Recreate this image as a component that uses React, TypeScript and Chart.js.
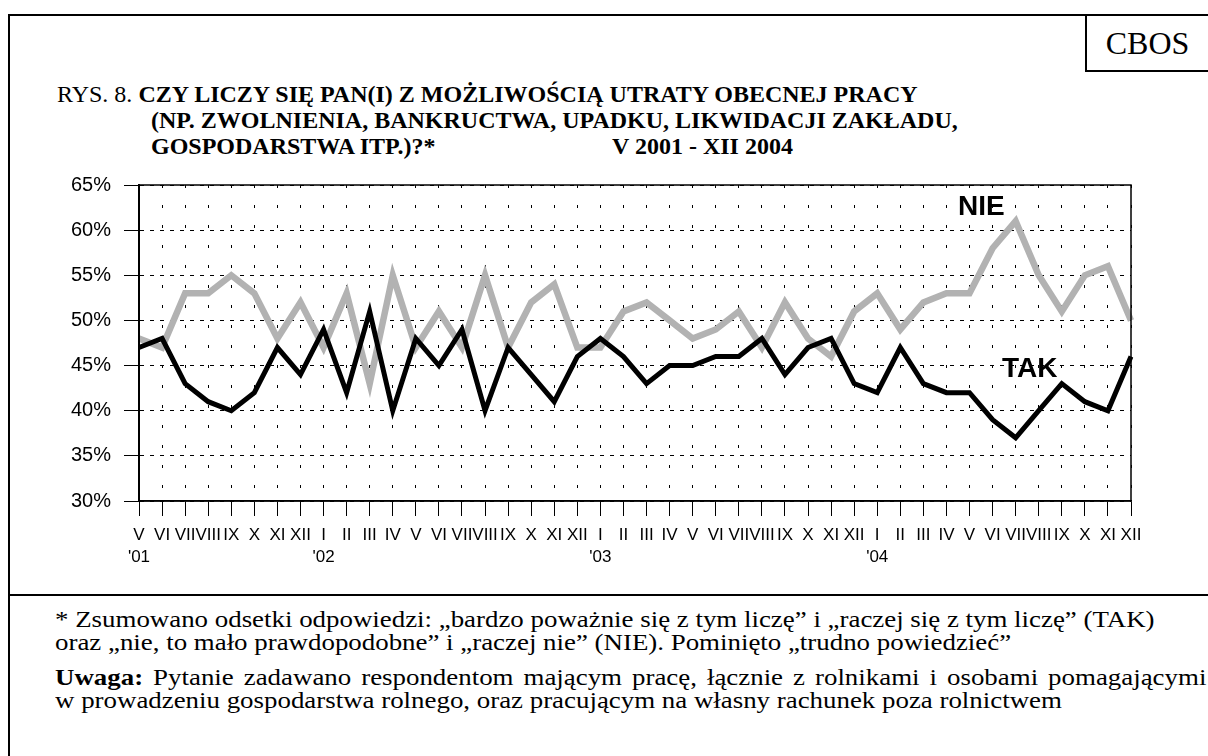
import React, { useEffect, useRef } from "react";
import { Chart, registerables } from "chart.js";

Chart.register(...registerables);

const months = [
  "V", "VI", "VII", "VIII", "IX", "X", "XI", "XII",
  "I", "II", "III", "IV", "V", "VI", "VII", "VIII", "IX", "X", "XI", "XII",
  "I", "II", "III", "IV", "V", "VI", "VII", "VIII", "IX", "X", "XI", "XII",
  "I", "II", "III", "IV", "V", "VI", "VII", "VIII", "IX", "X", "XI", "XII",
];
const years = [
  "'01", "", "", "", "", "", "", "",
  "'02", "", "", "", "", "", "", "", "", "", "", "",
  "'03", "", "", "", "", "", "", "", "", "", "", "",
  "'04", "", "", "", "", "", "", "", "", "", "", "",
];
const tak = [
  47, 48, 43, 41, 40, 42, 47, 44,
  49, 42, 51, 40, 48, 45, 49, 40, 47, 44, 41, 46,
  48, 46, 43, 45, 45, 46, 46, 48, 44, 47, 48, 43,
  42, 47, 43, 42, 42, 39, 37, 40, 43, 41, 40, 46,
];
const nie = [
  48, 47, 53, 53, 55, 53, 48, 52,
  47, 53, 43, 55, 47, 51, 47, 55, 47, 52, 54, 47,
  47, 51, 52, 50, 48, 49, 51, 47, 52, 48, 46, 51,
  53, 49, 52, 53, 53, 58, 61, 55, 51, 55, 56, 50,
];
const yTicks = [30, 35, 40, 45, 50, 55, 60, 65];

const CANVAS_LEFT = 30;
const CANVAS_TOP = 160;
const CANVAS_W = 1150;
const CANVAS_H = 430;
const AREA_LEFT = 139;
const AREA_TOP = 177;
const AREA_RIGHT = 1131;
const AREA_BOTTOM = 501;

const SANS = "'Liberation Sans', Arial, sans-serif";
const SERIF = "'Liberation Serif', 'Times New Roman', serif";

const frameBox = {
  id: "frameBox",
  afterDatasetsDraw(chart: any) {
    const { ctx, chartArea } = chart;
    ctx.save();
    ctx.strokeStyle = "#000";
    ctx.setLineDash([]);
    ctx.lineWidth = 1.5;
    ctx.strokeRect(chartArea.left, chartArea.top, chartArea.right - chartArea.left, chartArea.bottom - chartArea.top);
    ctx.lineWidth = 2;
    ctx.beginPath();
    ctx.moveTo(chartArea.left, chartArea.top);
    ctx.lineTo(chartArea.left, chartArea.bottom);
    ctx.stroke();
    ctx.restore();
  },
};

function LineChart() {
  const ref = useRef<HTMLCanvasElement>(null);
  useEffect(() => {
    if (!ref.current) return;
    const labels = months.map((m, i) => [m, years[i]]);
    const chart = new Chart(ref.current, {
      type: "line",
      data: {
        labels,
        datasets: [
          {
            label: "TAK",
            data: tak,
            borderColor: "#000000",
            borderWidth: 5,
            pointRadius: 0,
            tension: 0,
            borderJoinStyle: "miter",
          },
          {
            label: "NIE",
            data: nie,
            borderColor: "#b2b2b2",
            borderWidth: 6.5,
            pointRadius: 0,
            tension: 0,
            borderJoinStyle: "miter",
          },
        ],
      },
      options: {
        animation: false,
        responsive: false,
        maintainAspectRatio: false,
        events: [],
        layout: {
          padding: {
            top: AREA_TOP - CANVAS_TOP,
            right: CANVAS_LEFT + CANVAS_W - AREA_RIGHT,
            left: 0,
            bottom: 0,
          },
        },
        plugins: { legend: { display: false }, tooltip: { enabled: false }, title: { display: false } },
        scales: {
          x: {
            type: "category",
            offset: false,
            afterFit(scale: any) {
              scale.height = CANVAS_TOP + CANVAS_H - AREA_BOTTOM;
            },
            grid: {
              display: true,
              color: "#000",
              lineWidth: 1,
              drawTicks: true,
              tickLength: 15,
              tickBorderDash: [],
              tickColor: "#000",
              tickWidth: 1,
              offset: false,
            },
            border: { display: true, color: "#000", width: 1.5, dash: [3, 17] },
            ticks: {
              autoSkip: false,
              maxRotation: 0,
              minRotation: 0,
              color: "#000",
              padding: 8,
              font: { family: SANS, size: 17, lineHeight: 1.3 },
            },
          },
          y: {
            min: 30,
            max: 65,
            afterFit(scale: any) {
              scale.width = AREA_LEFT - CANVAS_LEFT;
            },
            afterBuildTicks(scale: any) {
              scale.ticks = yTicks.map((v) => ({ value: v }));
            },
            grid: {
              color: "#000",
              lineWidth: 1,
              drawTicks: true,
              tickLength: 15,
              tickBorderDash: [],
              tickColor: "#000",
              tickWidth: 1,
            },
            border: { display: true, color: "#000", width: 2, dash: [4, 6] },
            ticks: {
              color: "#000",
              padding: 13,
              font: { family: SANS, size: 20 },
              callback: (v: any) => v + "%",
            },
          },
        },
      },
      plugins: [frameBox],
    });
    return () => chart.destroy();
  }, []);
  return (
    <canvas
      ref={ref}
      width={CANVAS_W}
      height={CANVAS_H}
      style={{ position: "absolute", left: CANVAS_LEFT, top: CANVAS_TOP, width: CANVAS_W, height: CANVAS_H }}
    />
  );
}

export default function App() {
  const titleLine: React.CSSProperties = {
    position: "absolute",
    fontFamily: SERIF,
    fontSize: 24,
    fontWeight: "bold",
    whiteSpace: "nowrap",
    lineHeight: "26px",
    color: "#000",
  };
  const foot: React.CSSProperties = {
    position: "absolute",
    left: 55,
    fontFamily: SERIF,
    fontSize: 24,
    whiteSpace: "nowrap",
    lineHeight: "23px",
    color: "#000",
    transform: "scaleX(1.12)",
    transformOrigin: "0 0",
  };
  const seriesLabel: React.CSSProperties = {
    position: "absolute",
    fontFamily: SANS,
    fontWeight: "bold",
    fontSize: 28,
    lineHeight: "32px",
    color: "#000",
    whiteSpace: "nowrap",
  };
  return (
    <div style={{ position: "absolute", left: 0, top: 0, width: 1208, height: 756, overflow: "hidden", background: "#fff" }}>
      {/* outer frame */}
      <div style={{ position: "absolute", left: 8, top: 14, width: 1220, height: 800, borderLeft: "2px solid #000", borderTop: "2px solid #000" }} />
      {/* divider */}
      <div style={{ position: "absolute", left: 8, top: 594, width: 1220, height: 2, background: "#000" }} />
      {/* CBOS box */}
      <div style={{ position: "absolute", left: 1085, top: 14, width: 140, height: 56, borderLeft: "2px solid #000", borderBottom: "2px solid #000" }} />
      <div style={{ position: "absolute", left: 1087, top: 26, width: 121, textAlign: "center", fontFamily: SERIF, fontSize: 32, lineHeight: "34px", color: "#000" }}>CBOS</div>
      {/* title */}
      <div style={{ ...titleLine, left: 57, top: 81 }}>
        <span style={{ fontWeight: "normal" }}>RYS. 8. </span>CZY LICZY SIĘ PAN(I) Z MOŻLIWOŚCIĄ UTRATY OBECNEJ PRACY
      </div>
      <div style={{ ...titleLine, left: 151, top: 107 }}>(NP. ZWOLNIENIA, BANKRUCTWA, UPADKU, LIKWIDACJI ZAKŁADU,</div>
      <div style={{ ...titleLine, left: 151, top: 133 }}>GOSPODARSTWA ITP.)?*</div>
      <div style={{ ...titleLine, left: 612, top: 133 }}>V 2001 - XII 2004</div>
      <LineChart />
      <div style={{ ...seriesLabel, left: 958, top: 190 }}>NIE</div>
      <div style={{ ...seriesLabel, left: 1002, top: 352 }}>TAK</div>
      {/* footnotes */}
      <div style={{ ...foot, top: 608 }}>* Zsumowano odsetki odpowiedzi: „bardzo poważnie się z tym liczę” i „raczej się z tym liczę” (TAK)</div>
      <div style={{ ...foot, top: 631 }}>oraz „nie, to mało prawdopodobne” i „raczej nie” (NIE). Pominięto „trudno powiedzieć”</div>
      <div style={{ ...foot, top: 666, width: 1028, textAlign: "justify", textAlignLast: "justify" } as React.CSSProperties}>
        <b>Uwaga:</b> Pytanie zadawano respondentom mającym pracę, łącznie z rolnikami i osobami pomagającymi
      </div>
      <div style={{ ...foot, top: 689 }}>w prowadzeniu gospodarstwa rolnego, oraz pracującym na własny rachunek poza rolnictwem</div>
    </div>
  );
}
